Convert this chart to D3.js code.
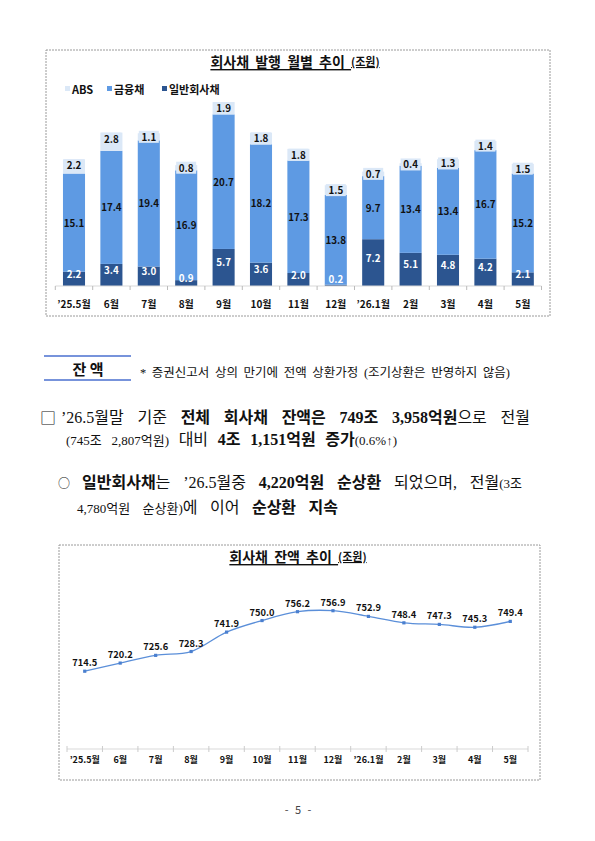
<!DOCTYPE html>
<html><head><meta charset="utf-8">
<script src="https://cdn.jsdelivr.net/npm/d3@7"></script>
<style>
html,body{margin:0;padding:0;background:#fff;}
svg{display:block;}
</style></head>
<body>
<svg id="page" width="595" height="841"></svg>
<script>
// ---------- data ----------
const months = ["’25.5월","6월","7월","8월","9월","10월","11월","12월","’26.1월","2월","3월","4월","5월"];
const seriesNames = ["일반회사채","금융채","ABS"];
const corpVals = [2.2,3.4,3.0,0.9,5.7,3.6,2.0,0.2,7.2,5.1,4.8,4.2,2.1];
const finVals  = [15.1,17.4,19.4,16.9,20.7,18.2,17.3,13.8,9.7,13.4,13.4,16.7,15.2];
const absVals  = [2.2,2.8,1.1,0.8,1.9,1.8,1.8,1.5,0.7,0.4,1.3,1.4,1.5];
const balance  = [714.5,720.2,725.6,728.3,741.9,750.0,756.2,756.9,752.9,748.4,747.3,745.3,749.4];
const legendOrder = ["ABS","금융채","일반회사채"];

const colors = {"ABS":"#dbe8f7","금융채":"#5e9ae3","일반회사채":"#2c5590"};
const KR = "'Noto Sans CJK KR','Noto Sans',sans-serif";
const SERIF = "'Liberation Serif','Noto Sans CJK KR',serif";

const svg = d3.select("#page");
svg.append("rect").attr("width",595).attr("height",841).attr("fill","#fff");

// ---------- top chart ----------
const topG = svg.append("g");
topG.append("rect").attr("x",46).attr("y",50).attr("width",504).attr("height",266)
  .attr("fill","none").attr("stroke","#9a9a9a").attr("stroke-width",1).attr("stroke-dasharray","2,1");

function title(g, cx, cy, main, unit){
  const t = g.append("text").attr("x",cx).attr("y",cy).attr("text-anchor","middle")
    .attr("dominant-baseline","central").attr("font-family",KR).attr("font-weight","bold")
    .attr("fill","#111").attr("text-decoration","underline").attr("word-spacing","3px");
  t.append("tspan").attr("font-size","14px").text(main+" ");
  t.append("tspan").attr("font-size","11px").text(unit);
}
title(topG, 295, 61, "회사채 발행 월별 추이", "(조원)");

// legend
const legX = [65,107,162];
legendOrder.forEach((n,i)=>{
  topG.append("rect").attr("x",legX[i]).attr("y",86).attr("width",5).attr("height",5).attr("fill",colors[n]);
  topG.append("text").attr("x",legX[i]+7).attr("y",89).attr("dominant-baseline","central")
    .attr("font-family",KR).attr("font-weight","bold").attr("font-size","11px").attr("fill","#111").text(n);
});

const xb = d3.scaleBand().domain(months).range([55.3,541.5]).padding(0);
const bw = xb.bandwidth()*0.59;
const yb = d3.scaleLinear().domain([0,30]).range([286,91]);

const table = months.map((m,i)=>({m, "일반회사채":corpVals[i], "금융채":finVals[i], "ABS":absVals[i]}));
const stacked = d3.stack().keys(seriesNames)(table);

stacked.forEach(s=>{
  topG.append("g").selectAll("rect").data(s).join("rect")
    .attr("x",d=>xb(d.data.m)+(xb.bandwidth()-bw)/2)
    .attr("width",bw)
    .attr("y",d=>yb(d[1]))
    .attr("height",d=>yb(d[0])-yb(d[1]))
    .attr("fill",colors[s.key]);
});

// axis
const axg = topG.append("g").attr("transform","translate(0,286)");
axg.append("line").attr("x1",55.3).attr("x2",541.5).attr("stroke","#d9d9d9");
axg.selectAll("line.tk").data(d3.range(months.length+1)).join("line").attr("class","tk")
  .attr("x1",i=>55.3+i*xb.step()).attr("x2",i=>55.3+i*xb.step()).attr("y1",0).attr("y2",4).attr("stroke","#bbb");
axg.selectAll("text").data(months).join("text")
  .attr("x",d=>xb(d)+xb.bandwidth()/2).attr("y",17).attr("text-anchor","middle").attr("dominant-baseline","central")
  .attr("font-family",KR).attr("font-weight","bold").attr("font-size","10px").attr("fill","#111").text(d=>d);

// labels
const fmt = d3.format(".1f");
stacked.forEach(s=>{
  const lg = topG.append("g");
  s.forEach(d=>{
    const v = d[1]-d[0];
    const cx = xb(d.data.m)+xb.bandwidth()/2;
    let cy = (yb(d[0])+yb(d[1]))/2;
    let fill = "#111";
    if(s.key==="일반회사채"){ cy = Math.min(cy-5, 279); fill="#fff"; }
    if(s.key==="ABS"){
      cy = Math.min(cy, yb(d[1])+6);
      lg.append("rect").attr("x",cx-10).attr("y",cy-6).attr("width",20).attr("height",12).attr("fill",colors.ABS);
    }
    lg.append("text").attr("x",cx).attr("y",cy).attr("text-anchor","middle").attr("dominant-baseline","central")
      .attr("font-family",KR).attr("font-weight","bold").attr("font-size","9.8px").attr("fill",fill).text(fmt(v));
  });
});

// ---------- text section ----------
const tx = svg.append("g");
tx.append("line").attr("x1",44).attr("x2",131).attr("y1",356).attr("y2",356).attr("stroke","#4a6fcf").attr("stroke-width",1.5);
tx.append("line").attr("x1",44).attr("x2",131).attr("y1",380).attr("y2",380).attr("stroke","#4a6fcf").attr("stroke-width",1.5);
tx.append("text").attr("x",88).attr("y",368).attr("text-anchor","middle").attr("dominant-baseline","central")
  .attr("font-family",KR).attr("font-weight","bold").attr("font-size","15px").attr("fill","#111").text("잔  액");

const st = {
  r:{size:"16px",weight:"400",fam:SERIF},
  b:{size:"16px",weight:"700",fam:SERIF},
  s:{size:"13px",weight:"400",fam:SERIF},
  f:{size:"12.5px",weight:"400",fam:SERIF}
};
function line(x0,x1,y,words){
  const nodes = words.map(w=>{
    const t = tx.append("text").attr("y",y).attr("fill","#111");
    w.forEach(([s,str])=>{
      t.append("tspan").attr("font-family",st[s].fam).attr("font-size",st[s].size).attr("font-weight",st[s].weight).text(str);
    });
    return t;
  });
  const ws = nodes.map(n=>n.node().getComputedTextLength());
  const total = d3.sum(ws);
  const gap = words.length>1 ? (x1-x0-total)/(words.length-1) : 0;
  let x = x0;
  nodes.forEach((n,i)=>{ n.attr("x",x); x += ws[i]+gap; });
}
line(140,510,377,[[["f","*"]],[["f","증권신고서"]],[["f","상의"]],[["f","만기에"]],[["f","전액"]],[["f","상환가정"]],[["f","(조기상환은"]],[["f","반영하지"]],[["f","않음)"]]]);

tx.append("text").attr("x",40).attr("y",424).attr("font-family",KR).attr("font-size","16px").attr("fill","#111").text("□");
line(61,530,423,[[["r","’26.5월말"]],[["r","기준"]],[["b","전체"]],[["b","회사채"]],[["b","잔액은"]],[["b","749조"]],[["b","3,958억원"],["r","으로"]],[["r","전월"]]]);
line(66,397,445,[[["s","(745조"]],[["s","2,807억원)"]],[["r","대비"]],[["b","4조"]],[["b","1,151억원"]],[["b","증가"],["s","(0.6%↑)"]]]);
tx.append("text").attr("x",64).attr("y",488).attr("text-anchor","middle").attr("font-family",KR).attr("font-size","12px").attr("fill","#111").text("○");
line(82,522,488,[[["b","일반회사채"],["r","는"]],[["r","’26.5월중"]],[["b","4,220억원"]],[["b","순상환"]],[["r","되었으며,"]],[["r","전월"],["s","(3조"]]]);
line(77,338,513,[[["s","4,780억원"]],[["s","순상환)"],["r","에"]],[["r","이어"]],[["b","순상환"]],[["b","지속"]]]);

// ---------- bottom chart ----------
const bot = svg.append("g");
bot.append("rect").attr("x",59).attr("y",545).attr("width",481).attr("height",235)
  .attr("fill","none").attr("stroke","#9a9a9a").attr("stroke-width",1).attr("stroke-dasharray","2,1");
title(bot, 298, 556, "회사채 잔액 추이", "(조원)");

const xl = d3.scaleBand().domain(months).range([67,528]).padding(0);
const yl = d3.scaleLinear().domain([660,770]).range([749,592]);
const cxl = d => xl(d)+xl.bandwidth()/2;

const ag = bot.append("g").attr("transform","translate(0,749)");
ag.append("line").attr("x1",67).attr("x2",528).attr("stroke","#d9d9d9");
ag.selectAll("line.tk").data(d3.range(months.length+1)).join("line").attr("class","tk")
  .attr("x1",i=>67+i*xl.step()).attr("x2",i=>67+i*xl.step()).attr("y1",-3).attr("y2",3).attr("stroke","#ccc");
ag.selectAll("text").data(months).join("text")
  .attr("x",d=>cxl(d)).attr("y",10).attr("text-anchor","middle").attr("dominant-baseline","central")
  .attr("font-family",KR).attr("font-weight","bold").attr("font-size","9px").attr("fill","#111").text(d=>d);

const pts = months.map((m,i)=>({m, v:balance[i]}));
bot.append("path").datum(pts)
  .attr("d", d3.line().x(d=>cxl(d.m)).y(d=>yl(d.v)).curve(d3.curveCatmullRom.alpha(0.5)))
  .attr("fill","none").attr("stroke","#5b8fd9").attr("stroke-width",1.3);
bot.selectAll("rect.mk").data(pts).join("rect").attr("class","mk")
  .attr("x",d=>cxl(d.m)-1.6).attr("y",d=>yl(d.v)-1.6).attr("width",3.2).attr("height",3.2).attr("fill","#4a7fcf");
bot.selectAll("text.lb").data(pts).join("text").attr("class","lb")
  .attr("x",d=>cxl(d.m)).attr("y",d=>yl(d.v)-9).attr("text-anchor","middle").attr("dominant-baseline","central")
  .attr("font-family",KR).attr("font-weight","bold").attr("font-size","9.3px").attr("fill","#111").text(d=>fmt(d.v));

// page number
svg.append("text").attr("x",298).attr("y",809).attr("text-anchor","middle").attr("dominant-baseline","central")
  .attr("font-family",KR).attr("font-size","11px").attr("fill","#444").attr("word-spacing","4px").text("- 5 -");
</script>
</body></html>
